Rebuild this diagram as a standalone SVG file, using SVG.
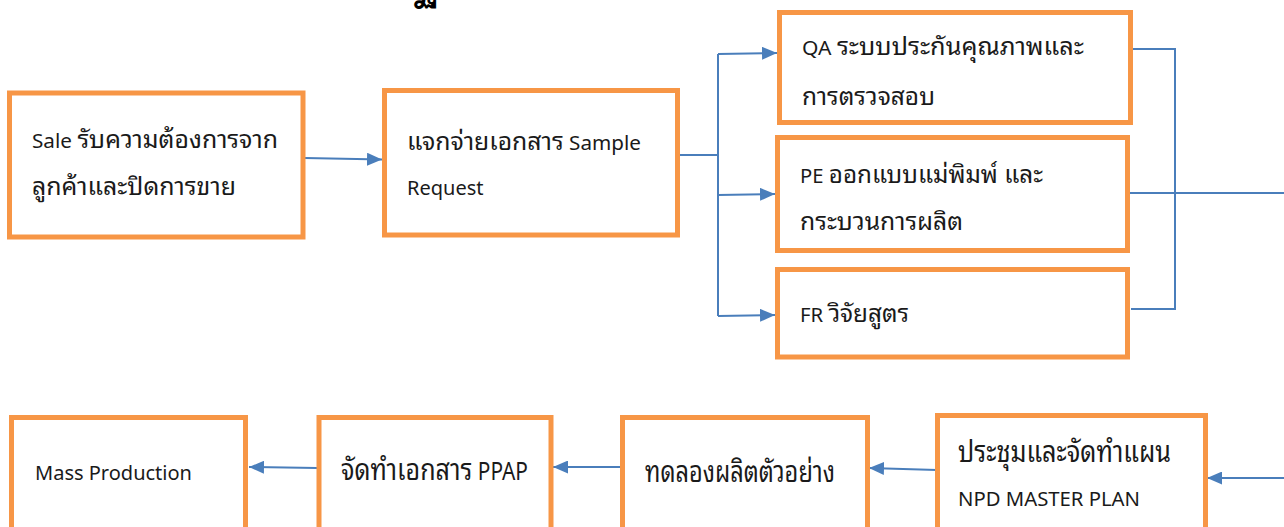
<svg xmlns="http://www.w3.org/2000/svg" width="1284" height="527" viewBox="0 0 1284 527">
  <style>
    .box { fill: #FFFFFF; stroke: #F79646; stroke-width: 5; }
    .lbl { font-family: "Noto Sans", "Noto Sans Thai Looped", "Noto Sans Thai", "Leelawadee UI", "DejaVu Sans", sans-serif; fill: #1A1A1A; font-size: 20px; }
    .th { font-size: 24px; }
    .big { font-size: 25px; }
    .big .th { font-size: 30px; }
    .wire { fill: none; stroke: #4A7EBB; stroke-width: 2; }
    .arrow { fill: none; stroke: #4A7EBB; stroke-width: 2; marker-end: url(#head); }
  </style>
  <defs>
    <marker id="head" markerUnits="userSpaceOnUse" markerWidth="15" markerHeight="13" refX="15" refY="6.5" orient="auto">
      <path d="M0,0 L15,6.5 L0,13 z" fill="#4A7EBB"/>
    </marker>
  </defs>

  <rect width="1284" height="527" fill="#FFFFFF"/>

  <!-- heading, cut off at the top edge -->
  <text x="414" y="-4" font-family="'Noto Sans Thai Looped', 'Noto Sans Thai', sans-serif" font-size="42" font-weight="bold" fill="#000000">ฐ</text>

  <g id="connectors">
    <path class="arrow" d="M305,158 L382,159.5"/>
    <path class="wire" d="M679,155 H718 M718,54 V316"/>
    <path class="arrow" d="M718,54 L777,53"/>
    <path class="arrow" d="M718,195 L775,194"/>
    <path class="arrow" d="M718,316 L775,315"/>
    <path class="wire" d="M1133,49 H1175 V309 H1131"/>
    <path class="wire" d="M1130,193 H1284"/>
    <path class="arrow" d="M1284,478 H1207"/>
    <path class="arrow" d="M937,470 L869,468"/>
    <path class="arrow" d="M622,467 L553,467"/>
    <path class="arrow" d="M317,468 L249,467"/>
  </g>

  <g id="sale">
    <rect class="box" x="9.5" y="93" width="293.5" height="144"/>
    <text class="lbl" x="32" y="148" textLength="246" lengthAdjust="spacingAndGlyphs">Sale <tspan class="th">รับความต้องการจาก</tspan></text>
    <text class="lbl" x="32" y="195" textLength="204" lengthAdjust="spacingAndGlyphs"><tspan class="th">ลูกค้าและปิดการขาย</tspan></text>
  </g>

  <g id="sample-request">
    <rect class="box" x="384.5" y="90.5" width="293" height="144.5"/>
    <text class="lbl" x="407" y="150" textLength="234" lengthAdjust="spacingAndGlyphs"><tspan class="th">แจกจ่ายเอกสาร</tspan> Sample</text>
    <text class="lbl" x="407" y="195">Request</text>
  </g>

  <g id="qa">
    <rect class="box" x="779.5" y="12.5" width="351" height="110"/>
    <text class="lbl" x="802" y="55" textLength="282" lengthAdjust="spacingAndGlyphs">QA <tspan class="th">ระบบประกันคุณภาพและ</tspan></text>
    <text class="lbl" x="802" y="105" textLength="133" lengthAdjust="spacingAndGlyphs"><tspan class="th">การตรวจสอบ</tspan></text>
  </g>

  <g id="pe">
    <rect class="box" x="777.5" y="137.5" width="350" height="113"/>
    <text class="lbl" x="800" y="183" textLength="243" lengthAdjust="spacingAndGlyphs">PE <tspan class="th">ออกแบบแม่พิมพ์ และ</tspan></text>
    <text class="lbl" x="800" y="230" textLength="163" lengthAdjust="spacingAndGlyphs"><tspan class="th">กระบวนการผลิต</tspan></text>
  </g>

  <g id="fr">
    <rect class="box" x="777.5" y="269.5" width="350" height="87.5"/>
    <text class="lbl" x="800" y="322" textLength="109" lengthAdjust="spacingAndGlyphs">FR <tspan class="th">วิจัยสูตร</tspan></text>
  </g>

  <g id="npd-plan">
    <rect class="box" x="937.5" y="415.5" width="268" height="120"/>
    <text class="lbl big" x="958" y="462" textLength="213" lengthAdjust="spacingAndGlyphs"><tspan class="th">ประชุมและจัดทำแผน</tspan></text>
    <text class="lbl" x="958" y="506" textLength="182" lengthAdjust="spacingAndGlyphs">NPD MASTER PLAN</text>
  </g>

  <g id="trial-run">
    <rect class="box" x="622.5" y="417.5" width="245" height="120"/>
    <text class="lbl big" x="645" y="482" textLength="190" lengthAdjust="spacingAndGlyphs"><tspan class="th">ทดลองผลิตตัวอย่าง</tspan></text>
  </g>

  <g id="ppap">
    <rect class="box" x="319" y="417.5" width="232" height="120"/>
    <text class="lbl big" x="341" y="480" textLength="187" lengthAdjust="spacingAndGlyphs"><tspan class="th">จัดทำเอกสาร</tspan> PPAP</text>
  </g>

  <g id="mass-production">
    <rect class="box" x="11.5" y="417.5" width="234" height="120"/>
    <text class="lbl" x="35" y="480" textLength="157" lengthAdjust="spacingAndGlyphs">Mass Production</text>
  </g>
</svg>
